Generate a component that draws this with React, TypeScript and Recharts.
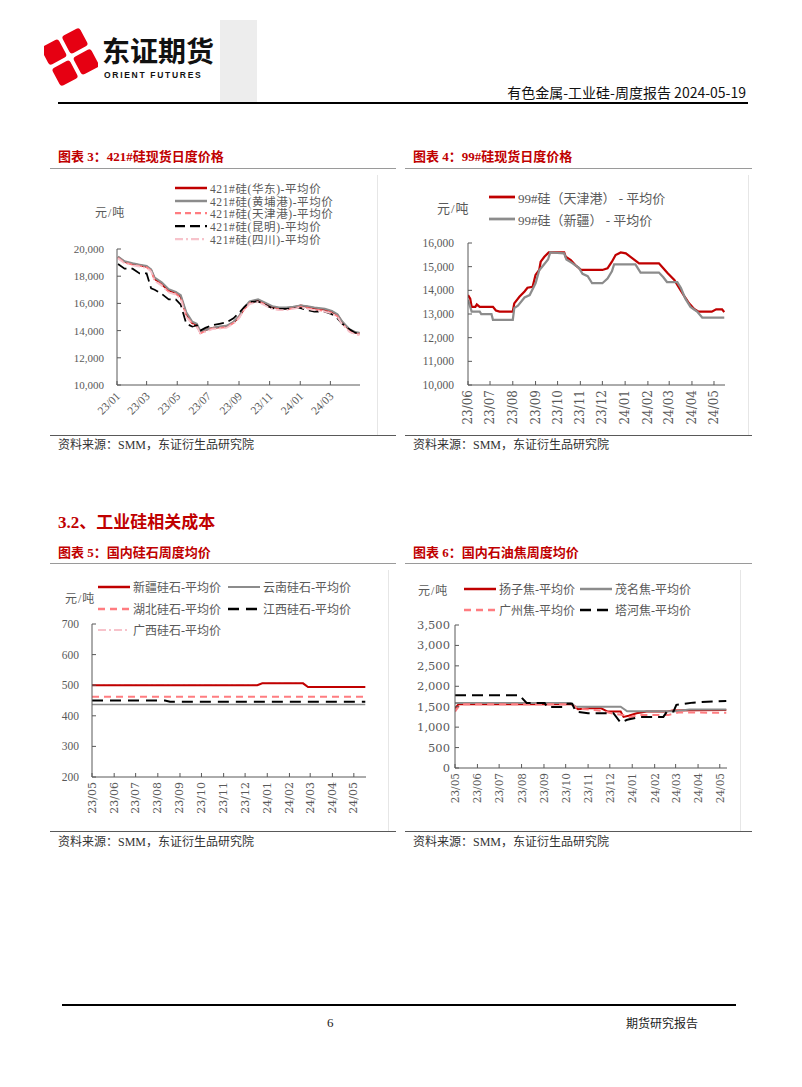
import React from "react";
import { LineChart, Line, XAxis, YAxis } from "recharts";

const SERIF = "'Liberation Serif', 'Noto Sans CJK SC', serif";
const WIDE = "'DejaVu Serif', 'Noto Sans CJK SC', serif";
const SANS = "'Noto Sans CJK SC', 'Noto Sans', sans-serif";

const RED = "#c00000";
const GREY = "#8c8c8c";
const SALMON = "#ff7c80";
const BLUSH = "#f7c3cb";
const BLACK = "#000000";
const AXIS = "#595959";
const TICK = "#595959";

// ---- 图表3: 421#硅现货日度价格 (shared dates) ----
const c3Dates = [
  "2023-01-03", "2023-01-16", "2023-02-01", "2023-02-15", "2023-03-01", "2023-03-10",
  "2023-03-17", "2023-03-31", "2023-04-14", "2023-04-28", "2023-05-08", "2023-05-19",
  "2023-05-31", "2023-06-09", "2023-06-16", "2023-06-26", "2023-07-10", "2023-07-24",
  "2023-08-07", "2023-08-21", "2023-09-01", "2023-09-11", "2023-09-22", "2023-10-09",
  "2023-10-23", "2023-11-06", "2023-11-20", "2023-12-04", "2023-12-18", "2024-01-02",
  "2024-01-15", "2024-01-29", "2024-02-19", "2024-03-04", "2024-03-15", "2024-03-25",
  "2024-04-08", "2024-04-19", "2024-04-28",
];
const c3Huadong = [
  19400, 19050, 18900, 18800, 18700, 18450, 17800, 17400, 16950, 16800, 16500, 15200,
  14550, 14400, 13850, 14050, 14200, 14250, 14300, 14600, 15000, 15600, 16050, 16250,
  16000, 15750, 15650, 15650, 15700, 15850, 15750, 15650, 15550, 15400, 15150, 14600,
  14050, 13850, 13800,
];
const c3Huangpu = [
  19450, 19100, 18950, 18850, 18750, 18500, 17900, 17550, 17050, 16850, 16600, 15350,
  14650, 14500, 13950, 14050, 14200, 14300, 14350, 14650, 15050, 15700, 16150, 16300,
  16050, 15800, 15700, 15700, 15750, 15850, 15800, 15700, 15600, 15450, 15200, 14650,
  14100, 13900, 13850,
];
const c3Tianjin = [
  19350, 19000, 18850, 18750, 18650, 18400, 17700, 17350, 16850, 16700, 16400, 15100,
  14500, 14300, 13800, 13950, 14150, 14200, 14250, 14550, 14950, 15550, 16000, 16150,
  15900, 15650, 15550, 15550, 15650, 15750, 15650, 15550, 15450, 15300, 15050, 14500,
  13950, 13750, 13700,
];
const c3Kunming = [
  18900, 18550, 18550, 18200, 18200, 17100, 17000, 16700, 16300, 16300, 15900, 14500,
  14300, 14400, 14000, 14200, 14400, 14500, 14600, 14900, 15300, 15700, 16100, 16150,
  15900, 15650, 15600, 15600, 15650, 15650, 15500, 15400, 15400, 15200, 14900, 14500,
  14100, 13850, 13800,
];
const c3Sichuan = [
  19300, 18950, 18800, 18700, 18600, 18350, 17650, 17300, 16800, 16650, 16300, 15000,
  14450, 14250, 13800, 13900, 14100, 14150, 14200, 14500, 14900, 15500, 15950, 16100,
  15850, 15600, 15500, 15500, 15600, 15700, 15600, 15500, 15400, 15250, 15000, 14450,
  13900, 13750, 13700,
];
const c3Ticks = [
  "2023-01-01", "2023-03-01", "2023-05-01", "2023-07-01",
  "2023-09-01", "2023-11-01", "2024-01-01", "2024-03-01",
];
const c3YTicks = [10000, 12000, 14000, 16000, 18000, 20000];

// ---- 图表4: 99#硅现货日度价格 ----
const c4TianjinDates = [
  "2023-06-01", "2023-06-04", "2023-06-06", "2023-06-11", "2023-06-13", "2023-06-17",
  "2023-07-05", "2023-07-09", "2023-07-14", "2023-08-01", "2023-08-03", "2023-08-10",
  "2023-08-17", "2023-08-21", "2023-08-28", "2023-09-01", "2023-09-06", "2023-09-08",
  "2023-09-13", "2023-09-19", "2023-10-10", "2023-10-12", "2023-10-19", "2023-10-25",
  "2023-11-02", "2023-12-01", "2023-12-08", "2023-12-14", "2023-12-19", "2023-12-26",
  "2024-01-02", "2024-01-11", "2024-01-20", "2024-02-16", "2024-02-22", "2024-02-28",
  "2024-03-08", "2024-03-15", "2024-03-22", "2024-03-28", "2024-04-04", "2024-04-10",
  "2024-04-28", "2024-05-04", "2024-05-12", "2024-05-15",
];
const c4Tianjin = [
  13800, 13650, 13300, 13300, 13400, 13300, 13300, 13150, 13100, 13100, 13450, 13730,
  13950, 14110, 14150, 14650, 14860, 15210, 15420, 15600, 15600, 15420, 15280, 15070,
  14860, 14860, 14930, 15210, 15490, 15600, 15560, 15350, 15140, 15140, 14930, 14720,
  14440, 14080, 13730, 13450, 13210, 13100, 13100, 13200, 13200, 13080,
];
const c4XinjiangDates = [
  "2023-06-01", "2023-06-06", "2023-06-17", "2023-06-19", "2023-07-03", "2023-07-05",
  "2023-08-01", "2023-08-03", "2023-08-08", "2023-08-17", "2023-08-24", "2023-09-01",
  "2023-09-06", "2023-09-10", "2023-09-18", "2023-09-21", "2023-10-10", "2023-10-13",
  "2023-10-21", "2023-10-30", "2023-11-04", "2023-11-11", "2023-11-17", "2023-12-01",
  "2023-12-08", "2023-12-14", "2023-12-17", "2024-01-15", "2024-01-22", "2024-02-16",
  "2024-02-22", "2024-02-27", "2024-03-12", "2024-03-17", "2024-03-23", "2024-03-30",
  "2024-04-08", "2024-04-15", "2024-05-15",
];
const c4Xinjiang = [
  13600, 13100, 13100, 13000, 13000, 12750, 12750, 13250, 13350, 13700, 13800, 14300,
  14850, 15000, 15300, 15600, 15560, 15300, 15150, 14950, 14700, 14600, 14300, 14300,
  14500, 14800, 15100, 15100, 14750, 14750, 14550, 14350, 14350, 14100, 13650, 13300,
  13100, 12850, 12850,
];
const c4Ticks = [
  "2023-06-01", "2023-07-01", "2023-08-01", "2023-09-01", "2023-10-01", "2023-11-01",
  "2023-12-01", "2024-01-01", "2024-02-01", "2024-03-01", "2024-04-01", "2024-05-01",
];
const c4YTicks = [10000, 11000, 12000, 13000, 14000, 15000, 16000];

// ---- 图表5: 国内硅石周度均价 ----
const c5XinjiangDates = ["2023-05-01", "2023-12-18", "2023-12-25", "2024-02-20", "2024-02-27", "2024-05-17"];
const c5Xinjiang = [500, 500, 506, 506, 494, 494];
const c5YunnanDates = ["2023-05-01", "2024-05-17"];
const c5Yunnan = [437, 437];
const c5HubeiDates = ["2023-05-01", "2024-05-17"];
const c5Hubei = [462, 462];
const c5JiangxiDates = ["2023-05-01", "2023-08-11", "2023-08-18", "2024-05-17"];
const c5Jiangxi = [450, 450, 446, 446];
const c5GuangxiDates = ["2023-05-01", "2023-12-18", "2023-12-25", "2024-02-20", "2024-02-27", "2024-05-17"];
const c5Guangxi = [500, 500, 506, 506, 494, 494];
const c5Ticks = [
  "2023-05-01", "2023-06-01", "2023-07-01", "2023-08-01", "2023-09-01", "2023-10-01",
  "2023-11-01", "2023-12-01", "2024-01-01", "2024-02-01", "2024-03-01", "2024-04-01",
  "2024-05-01",
];
const c5YTicks = [200, 300, 400, 500, 600, 700];

// ---- 图表6: 国内石油焦周度均价 ----
const c6YangziDates = [
  "2023-05-01", "2023-05-06", "2023-10-09", "2023-10-18", "2023-11-01", "2023-11-19",
  "2023-11-28", "2023-12-16", "2023-12-20", "2023-12-27", "2024-01-07", "2024-01-21",
  "2024-02-17", "2024-02-26", "2024-05-10",
];
const c6Yangzi = [1460, 1560, 1560, 1440, 1460, 1460, 1380, 1380, 1250, 1280, 1340, 1380, 1380, 1410, 1420];
const c6MaomingDates = ["2023-05-01", "2023-10-08", "2023-10-15", "2023-12-16", "2023-12-25", "2024-03-01", "2024-03-20", "2024-05-10"];
const c6Maoming = [1590, 1590, 1500, 1500, 1390, 1390, 1430, 1430];
const c6GuangzhouDates = [
  "2023-05-01", "2023-05-08", "2023-10-09", "2023-10-18", "2023-11-10", "2023-11-20",
  "2023-12-05", "2023-12-20", "2023-12-28", "2024-01-10", "2024-02-20", "2024-03-05",
  "2024-05-10",
];
const c6Guangzhou = [1380, 1560, 1560, 1450, 1420, 1400, 1330, 1300, 1240, 1300, 1300, 1360, 1350];
const c6TaheDates = [
  "2023-05-01", "2023-07-29", "2023-08-08", "2023-09-02", "2023-09-05", "2023-09-27",
  "2023-10-01", "2023-10-10", "2023-10-15", "2023-11-01", "2023-12-06", "2023-12-16",
  "2023-12-25", "2024-01-12", "2024-02-13", "2024-02-18", "2024-02-27", "2024-03-02",
  "2024-03-25", "2024-04-21", "2024-05-10",
];
const c6Tahe = [
  1780, 1780, 1590, 1590, 1490, 1490, 1570, 1570, 1380, 1340, 1340, 1110, 1180, 1250,
  1250, 1380, 1380, 1545, 1600, 1630, 1640,
];
const c6YTicks = [0, 500, 1000, 1500, 2000, 2500, 3000, 3500];

const ms = (s: string) => Date.UTC(+s.slice(0, 4), +s.slice(5, 7) - 1, +s.slice(8, 10));
const pts = (dates: string[], vals: number[]) => dates.map((s, i) => ({ t: ms(s), v: vals[i] }));
const fmtMonth = (v: number) => {
  const dt = new Date(v);
  return `${String(dt.getUTCFullYear()).slice(2)}/${String(dt.getUTCMonth() + 1).padStart(2, "0")}`;
};
const fmtNum = (v: number) => v.toLocaleString("en-US");

type Series = { name: string; data: { t: number; v: number }[]; color: string; width: number; dash?: string };

function XTick(props: any) {
  const { x, y, payload, angle, font, size } = props;
  const tx = angle === -90 ? x : x + 1;
  const ty = angle === -90 ? y + 5 : y + 9;
  return (
    <g>
      <line x1={x} x2={x} y1={y} y2={y - 4} stroke={AXIS} strokeWidth={1} />
      <text
        transform={`translate(${tx},${ty}) rotate(${angle})`}
        textAnchor="end"
        dominantBaseline="central"
        fontFamily={font}
        fontSize={size}
        fill={TICK}
      >
        {fmtMonth(payload.value)}
      </text>
    </g>
  );
}

function YTick(props: any) {
  const { x, y, payload, font, size, gap } = props;
  return (
    <g>
      <line x1={x} x2={x + 4} y1={y} y2={y} stroke={AXIS} strokeWidth={1} />
      <text x={x - gap} y={y} textAnchor="end" dominantBaseline="central" fontFamily={font} fontSize={size} fill={TICK}>
        {fmtNum(payload.value)}
      </text>
    </g>
  );
}

function PriceChart(p: {
  left: number; top: number; plotW: number; plotH: number;
  domainX: [number, number]; ticksX: string[];
  domainY: [number, number]; ticksY: number[];
  series: Series[];
  xAngle: number; xFont: string; xSize: number;
  yFont: string; ySize: number; yGap: number;
}) {
  const L = 60, T = 10, R = 10, B = 50;
  return (
    <div style={{ position: "absolute", left: p.left - L, top: p.top - T }}>
      <LineChart width={p.plotW + L + R} height={p.plotH + T + B} margin={{ top: T, right: R, bottom: 0, left: 0 }}>
        <XAxis
          type="number"
          dataKey="t"
          domain={p.domainX}
          ticks={p.ticksX.map(ms)}
          interval={0}
          height={B}
          allowDataOverflow
          tickSize={0}
          tickMargin={0}
          tickLine={false}
          axisLine={{ stroke: AXIS }}
          tick={(tp: any) => <XTick {...tp} angle={p.xAngle} font={p.xFont} size={p.xSize} />}
        />
        <YAxis
          type="number"
          domain={p.domainY}
          ticks={p.ticksY}
          interval={0}
          width={L}
          allowDataOverflow
          tickSize={0}
          tickMargin={0}
          tickLine={false}
          axisLine={{ stroke: AXIS }}
          tick={(tp: any) => <YTick {...tp} font={p.yFont} size={p.ySize} gap={p.yGap} />}
        />
        {p.series.map((s) => (
          <Line
            key={s.name}
            name={s.name}
            data={s.data}
            dataKey="v"
            type="linear"
            stroke={s.color}
            strokeWidth={s.width}
            strokeDasharray={s.dash}
            dot={false}
            isAnimationActive={false}
          />
        ))}
      </LineChart>
    </div>
  );
}

function Key(p: { x: number; y: number; len: number; s: Series; size: number; spacing?: number }) {
  return (
    <div
      style={{
        position: "absolute", left: p.x, top: p.y - 8, height: 16,
        display: "flex", alignItems: "center", whiteSpace: "nowrap",
      }}
    >
      <svg width={p.len} height={6}>
        <line x1={0} x2={p.len} y1={3} y2={3} stroke={p.s.color} strokeWidth={p.s.width + 0.5} strokeDasharray={p.s.dash} />
      </svg>
      <span style={{ marginLeft: 3, fontFamily: SERIF, fontSize: p.size, letterSpacing: p.spacing ?? 0, color: TICK }}>
        {p.s.name}
      </span>
    </div>
  );
}

function Txt(p: { x: number; y: number; size: number; color?: string; bold?: boolean; font?: string; spacing?: number; children: React.ReactNode; right?: boolean }) {
  return (
    <div
      style={{
        position: "absolute",
        left: p.right ? undefined : p.x,
        right: p.right ? 802 - p.x : undefined,
        top: p.y - p.size * 0.6,
        lineHeight: `${p.size * 1.2}px`,
        fontSize: p.size,
        fontFamily: p.font ?? SERIF,
        fontWeight: p.bold ? 700 : 400,
        color: p.color ?? "#262626",
        letterSpacing: p.spacing ?? 0,
        whiteSpace: "nowrap",
      }}
    >
      {p.children}
    </div>
  );
}

function Rule(p: { x1: number; x2: number; y: number; color: string; w?: number }) {
  return <div style={{ position: "absolute", left: p.x1, top: p.y, width: p.x2 - p.x1, height: p.w ?? 1, background: p.color }} />;
}

function VRule(p: { x: number; y1: number; y2: number; color: string }) {
  return <div style={{ position: "absolute", left: p.x, top: p.y1, width: 1, height: p.y2 - p.y1, background: p.color }} />;
}

export default function App() {
  const s3: Series[] = [
    { name: "421#硅(华东)-平均价", data: pts(c3Dates, c3Huadong), color: RED, width: 2 },
    { name: "421#硅(黄埔港)-平均价", data: pts(c3Dates, c3Huangpu), color: GREY, width: 2 },
    { name: "421#硅(天津港)-平均价", data: pts(c3Dates, c3Tianjin), color: SALMON, width: 1.75, dash: "6 4" },
    { name: "421#硅(昆明)-平均价", data: pts(c3Dates, c3Kunming), color: BLACK, width: 1.75, dash: "10 5" },
    { name: "421#硅(四川)-平均价", data: pts(c3Dates, c3Sichuan), color: BLUSH, width: 1.75, dash: "8 3 2 3" },
  ];
  const s4: Series[] = [
    { name: "99#硅（天津港） - 平均价", data: pts(c4TianjinDates, c4Tianjin), color: RED, width: 2.25 },
    { name: "99#硅（新疆） - 平均价", data: pts(c4XinjiangDates, c4Xinjiang), color: GREY, width: 2.25 },
  ];
  const s5: Series[] = [
    { name: "新疆硅石-平均价", data: pts(c5XinjiangDates, c5Xinjiang), color: RED, width: 2 },
    { name: "云南硅石-平均价", data: pts(c5YunnanDates, c5Yunnan), color: GREY, width: 1.5 },
    { name: "湖北硅石-平均价", data: pts(c5HubeiDates, c5Hubei), color: SALMON, width: 2, dash: "7 5" },
    { name: "江西硅石-平均价", data: pts(c5JiangxiDates, c5Jiangxi), color: BLACK, width: 2, dash: "11 7" },
    { name: "广西硅石-平均价", data: pts(c5GuangxiDates, c5Guangxi), color: BLUSH, width: 1.5, dash: "8 3 2 3" },
  ];
  const s6: Series[] = [
    { name: "扬子焦-平均价", data: pts(c6YangziDates, c6Yangzi), color: RED, width: 2 },
    { name: "茂名焦-平均价", data: pts(c6MaomingDates, c6Maoming), color: GREY, width: 2 },
    { name: "广州焦-平均价", data: pts(c6GuangzhouDates, c6Guangzhou), color: SALMON, width: 2, dash: "7 5" },
    { name: "塔河焦-平均价", data: pts(c6TaheDates, c6Tahe), color: BLACK, width: 2, dash: "11 6" },
  ];
  // 广西 sits under 新疆, so draw it first
  const s5Draw = [s5[4], s5[0], s5[1], s5[2], s5[3]];

  return (
    <div style={{ position: "absolute", left: 0, top: 0, width: 802, height: 1087, background: "#fff", overflow: "hidden" }}>
      {/* header */}
      <div style={{ position: "absolute", left: 220, top: 20, width: 37, height: 82, background: "#ededed" }} />
      <svg style={{ position: "absolute", left: 44, top: 28 }} width={54} height={58}>
        <g transform="translate(26,29) rotate(-28)">
          <rect x={-22} y={-22} width={20} height={20} rx={3} fill="#e60012" />
          <rect x={2} y={-22} width={20} height={20} rx={3} fill="#e60012" />
          <rect x={-22} y={2} width={20} height={20} rx={3} fill="#e60012" />
          <rect x={2} y={2} width={20} height={20} rx={3} fill="#e60012" />
        </g>
      </svg>
      <Txt x={102} y={51} size={28} bold font={SANS} color="#111">东证期货</Txt>
      <Txt x={104} y={75} size={8.5} bold font="'Liberation Sans', Arial, sans-serif" spacing={1.7} color="#111">ORIENT FUTURES</Txt>
      <Txt x={746} y={92} size={14} font={SANS} color="#111" right>有色金属-工业硅-周度报告 2024-05-19</Txt>
      <Rule x1={58} x2={748} y={102} color="#000" w={2} />

      {/* 图表3 */}
      <Txt x={58} y={157} size={13} bold color={RED}>图表 3：421#硅现货日度价格</Txt>
      <Rule x1={50} x2={396} y={168} color="#9a9a9a" />
      <VRule x={377} y1={175} y2={435} color="#e6e6e6" />
      <Txt x={95} y={213} size={12} spacing={1} color={TICK}>元/吨</Txt>
      {s3.map((s, i) => (
        <Key key={s.name} x={175} y={188 + i * 12.7} len={32} s={s} size={11.5} spacing={0.6} />
      ))}
      <PriceChart
        left={117} top={249} plotW={243} plotH={136}
        domainX={[ms("2023-01-01"), ms("2024-04-29")]} ticksX={c3Ticks}
        domainY={[10000, 20000]} ticksY={c3YTicks}
        series={s3}
        xAngle={-45} xFont={SERIF} xSize={11.5}
        yFont={SERIF} ySize={11} yGap={13}
      />
      <Rule x1={50} x2={396} y={435} color="#595959" />
      <Txt x={58} y={445} size={12} color="#333">资料来源：SMM，东证衍生品研究院</Txt>

      {/* 图表4 */}
      <Txt x={413} y={157} size={13} bold color={RED}>图表 4：99#硅现货日度价格</Txt>
      <Rule x1={405} x2={752} y={168} color="#9a9a9a" />
      <VRule x={748} y1={175} y2={435} color="#e6e6e6" />
      <Txt x={437} y={209} size={13} spacing={1} color={TICK}>元/吨</Txt>
      {s4.map((s, i) => (
        <Key key={s.name} x={489} y={197 + i * 22} len={26} s={s} size={13} />
      ))}
      <PriceChart
        left={468} top={243} plotW={257} plotH={142}
        domainX={[ms("2023-06-01"), ms("2024-05-16")]} ticksX={c4Ticks}
        domainY={[10000, 16000]} ticksY={c4YTicks}
        series={s4}
        xAngle={-90} xFont={WIDE} xSize={12}
        yFont={SERIF} ySize={11.5} yGap={14}
      />
      <Rule x1={405} x2={752} y={435} color="#595959" />
      <Txt x={413} y={445} size={12} color="#333">资料来源：SMM，东证衍生品研究院</Txt>

      {/* 3.2 */}
      <Txt x={58} y={523} size={17} bold color={RED}>3.2、工业硅相关成本</Txt>

      {/* 图表5 */}
      <Txt x={58} y={553} size={13} bold color={RED}>图表 5：国内硅石周度均价</Txt>
      <Rule x1={50} x2={396} y={563} color="#9a9a9a" />
      <VRule x={388} y1={570} y2={832} color="#e6e6e6" />
      <Txt x={65} y={599} size={12} spacing={1} color={TICK}>元/吨</Txt>
      <Key x={98} y={587} len={32} s={s5[0]} size={12} />
      <Key x={228} y={587} len={32} s={s5[1]} size={12} />
      <Key x={98} y={609} len={32} s={s5[2]} size={12} />
      <Key x={228} y={609} len={32} s={s5[3]} size={12} />
      <Key x={98} y={630} len={32} s={s5[4]} size={12} />
      <PriceChart
        left={92} top={624} plotW={274} plotH={153}
        domainX={[ms("2023-05-01"), ms("2024-05-18")]} ticksX={c5Ticks}
        domainY={[200, 700]} ticksY={c5YTicks}
        series={s5Draw}
        xAngle={-90} xFont={WIDE} xSize={11}
        yFont={SERIF} ySize={11.5} yGap={13}
      />
      <Rule x1={50} x2={396} y={831} color="#595959" />
      <Txt x={58} y={842} size={12} color="#333">资料来源：SMM，东证衍生品研究院</Txt>

      {/* 图表6 */}
      <Txt x={413} y={553} size={13} bold color={RED}>图表 6：国内石油焦周度均价</Txt>
      <Rule x1={405} x2={752} y={563} color="#9a9a9a" />
      <VRule x={740} y1={570} y2={832} color="#e6e6e6" />
      <Txt x={418} y={591} size={12} spacing={1} color={TICK}>元/吨</Txt>
      <Key x={464} y={589} len={32} s={s6[0]} size={12} />
      <Key x={580} y={589} len={32} s={s6[1]} size={12} />
      <Key x={464} y={610} len={32} s={s6[2]} size={12} />
      <Key x={580} y={610} len={32} s={s6[3]} size={12} />
      <PriceChart
        left={455} top={625} plotW={272} plotH={143}
        domainX={[ms("2023-05-01"), ms("2024-05-11")]} ticksX={c5Ticks}
        domainY={[0, 3500]} ticksY={c6YTicks}
        series={s6}
        xAngle={-90} xFont={WIDE} xSize={10.5}
        yFont={WIDE} ySize={11.5} yGap={5}
      />
      <Rule x1={405} x2={752} y={831} color="#595959" />
      <Txt x={413} y={842} size={12} color="#333">资料来源：SMM，东证衍生品研究院</Txt>

      {/* footer */}
      <Rule x1={62} x2={736} y={1004} color="#000" w={1.5} />
      <Txt x={327} y={1023} size={13} color="#222">6</Txt>
      <Txt x={626} y={1023} size={12} font={SANS} color="#222">期货研究报告</Txt>
    </div>
  );
}
